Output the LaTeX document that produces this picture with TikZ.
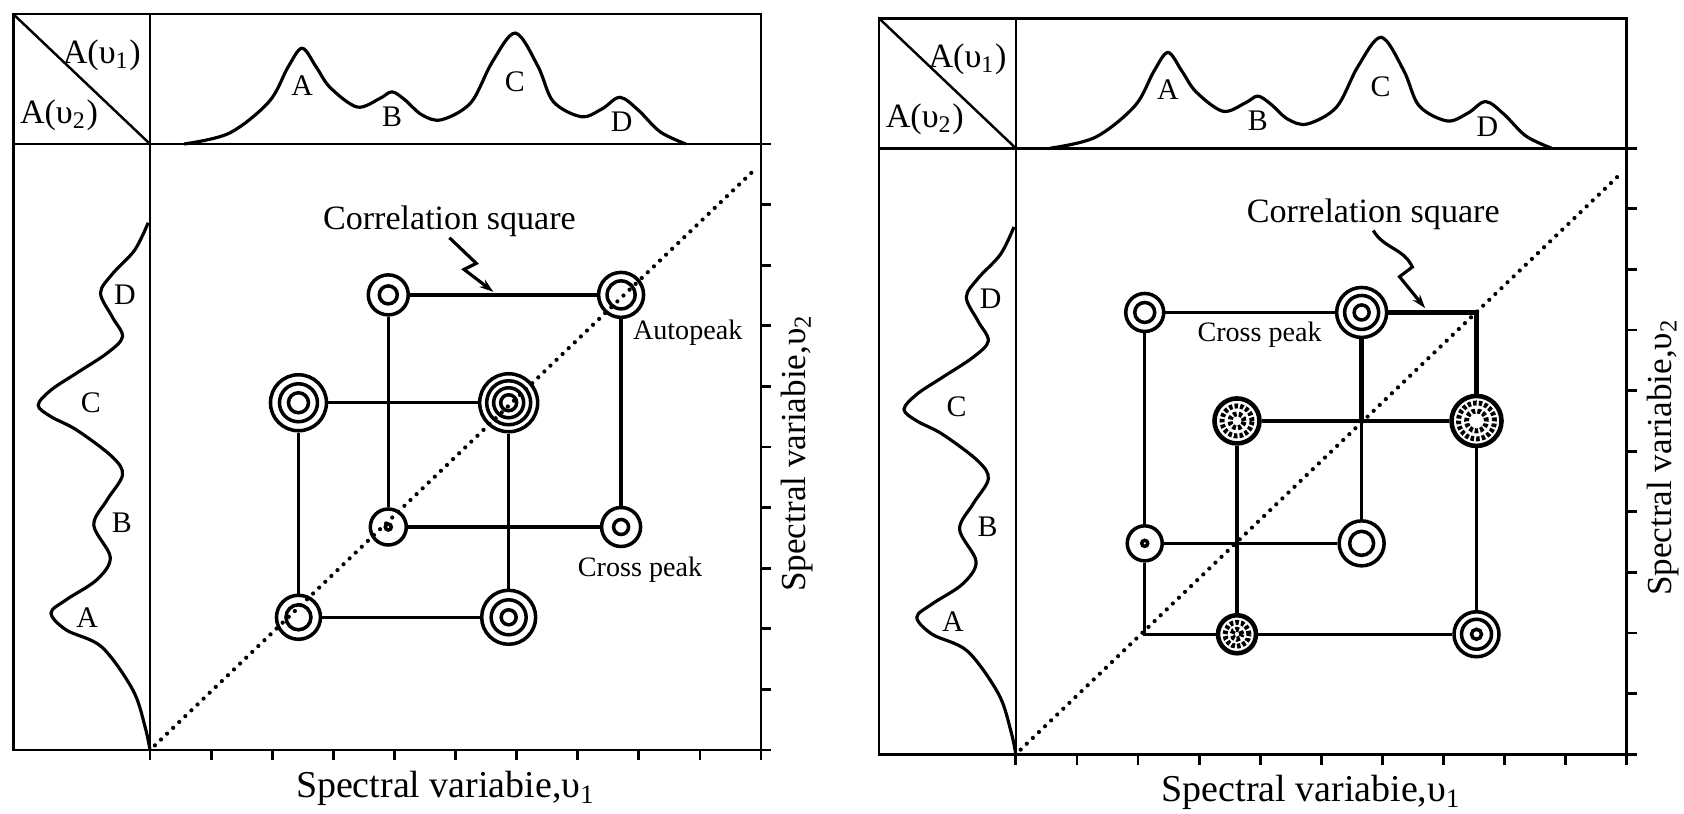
\documentclass[tikz,border=0pt]{standalone}
\usepackage{fontspec}
\setmainfont{Liberation Serif}
\usetikzlibrary{arrows.meta}

\tikzset{
  frameline/.style={line width=0.8pt},
  specline/.style={line width=0.9pt},
  sqline/.style={line width=0.9pt},
  sqbold/.style={line width=1.3pt},
  diagline/.style={line width=1.2pt, line cap=round, dash pattern=on 0pt off 2.4pt},
  peak/.style={circle, draw, line width=1pt, minimum size=#1, inner sep=0pt},
  peak/.default=0.4cm,
  rings/.style={path picture={\foreach \r in {#1}
      \draw[line width=1pt] (path picture bounding box.center) circle[radius=\r];}},
  fuzzy/.style={path picture={\foreach \r in {#1}
      \draw[line width=1.4pt, dash pattern=on 1pt off 0.6pt] (path picture bounding box.center) circle[radius=\r];}},
  peaklbl/.style={font=\fontsize{8.5}{10}\selectfont, inner sep=0pt},
  notelbl/.style={font=\fontsize{8}{10}\selectfont, inner sep=0pt},
  titlelbl/.style={font=\fontsize{9.7}{11}\selectfont, inner sep=0pt},
  axislbl/.style={font=\fontsize{10.8}{12}\selectfont, inner sep=0pt},
  zigzag/.style={line width=0.9pt, -{Stealth[length=4pt, width=2.6pt]}},
}

\begin{document}
\begin{tikzpicture}[x=0.611cm, y=0.606cm]
    % 0. page size, margins of the original
    \useasboundingbox (-2.455,-1.040) rectangle (25.106,12.376);

    % 1. two frames (left and right): 1D spectra on top and at the left, ticks, titles, diagonal
    \foreach \sx/\sy/\p in {0/0/1, 14.17/-0.07/2}{
      \begin{scope}[shift={(\sx,\sy)}]
        \draw[frameline] (-2.24,0) rectangle (10,12.145);
        \draw[frameline] (-2.24,10) -- (10,10);
        \draw[line width=0.7pt] (0,0) -- (0,12.145);
        \draw[line width=0.7pt] (-2.24,12.145) -- (0,10); % split corner cell
        \foreach \i in {0,...,10}{
          \draw[frameline] (\i,0) -- (\i,-0.17);
          \draw[frameline] (10,\i) -- (10.17,\i);
        }
        % spectrum A(v1) on top, peaks A B C D
        \draw[specline] plot[smooth, tension=0.55] coordinates {(0.56,10.0) (1.3,10.18) (1.95,10.70)
          (2.26,11.27) (2.49,11.58) (2.72,11.27) (2.95,10.93) (3.39,10.61) (3.76,10.75)
          (3.96,10.86) (4.17,10.73) (4.45,10.48) (4.77,10.40) (5.25,10.68) (5.60,11.35) (5.98,11.83)
          (6.35,11.28) (6.60,10.70) (7.06,10.45) (7.40,10.58) (7.69,10.77) (7.99,10.56) (8.35,10.20) (8.77,10.0)};
        % spectrum A(v2) at the left, peaks point to the left
        \draw[specline] plot[smooth, tension=0.55] coordinates {(0,0) (-0.08,0.38) (-0.28,0.99)
          (-0.79,1.70) (-1.37,1.98) (-1.62,2.26) (-1.37,2.48) (-0.87,2.81) (-0.65,3.18) (-0.92,3.71)
          (-0.70,4.13) (-0.45,4.54) (-0.62,4.84) (-1.2,5.28) (-1.62,5.5) (-1.83,5.69) (-1.62,5.94)
          (-1.2,6.22) (-0.70,6.55) (-0.45,6.82) (-0.62,7.15) (-0.81,7.54) (-0.62,7.85)
          (-0.25,8.25) (-0.03,8.70)};
        \node[peaklbl] (topA\p) at (2.49,10.97) {A};
        \node[peaklbl] (topB\p) at (3.96,10.45) {B};
        \node[peaklbl] (topC\p) at (5.97,11.02) {C};
        \node[peaklbl] (topD\p) at (7.72,10.36) {D};
        \node[peaklbl] (sideA\p) at (-1.03,2.19) {A};
        \node[peaklbl] (sideB\p) at (-0.46,3.75) {B};
        \node[peaklbl] (sideC\p) at (-0.97,5.73) {C};
        \node[peaklbl] (sideD\p) at (-0.41,7.51) {D};
        \node[titlelbl] (hdrA\p) at (-0.79,11.47) {A(υ\textsubscript{1})};
        \node[titlelbl] (hdrB\p) at (-1.49,10.48) {A(υ\textsubscript{2})};
        \node[axislbl] (xlab\p) at (4.84,-0.63) {Spectral variabie,υ\textsubscript{1}};
        \node[axislbl, font=\fontsize{10}{12}\selectfont, rotate=90] (ylab\p) at (10.59,4.9) {Spectral variabie,υ\textsubscript{2}};
        % autopeaks lie on this line
        \draw[diagline] (0.08,0.077) -- (9.92,9.6);
      \end{scope}
    }

    % 2. left map: two correlation squares B-D and A-C
    \node[peak=0.40cm, rings={0.09cm}] (BD1) at (3.90,7.51) {};
    \node[peak=0.45cm, rings={0.14cm}] (DD1) at (7.71,7.51) {};
    \node[peak=0.56cm, rings={0.19cm,0.10cm}] (AC1) at (2.43,5.73) {};
    \node[peak=0.58cm, rings={0.22cm,0.15cm,0.08cm}] (CC1) at (5.87,5.73) {};
    \node[peak=0.36cm, rings={0.03cm}] (BB1) at (3.90,3.68) {};
    \node[peak=0.39cm, rings={0.075cm}] (DB1) at (7.71,3.68) {};
    \node[peak=0.44cm, rings={0.125cm}] (AA1) at (2.43,2.19) {};
    \node[peak=0.54cm, rings={0.175cm,0.075cm}] (CA1) at (5.87,2.19) {};
    \draw[sqbold] (BD1) -- (DD1);
    \draw[sqbold] (DD1) -- (DB1);
    \draw[sqline] (BD1) -- (BB1);
    \draw[sqbold] (BB1) -- (DB1);
    \draw[sqline] (AC1) -- (CC1);
    \draw[sqline] (AC1) -- (AA1);
    \draw[sqline] (AA1) -- (CA1);
    \draw[sqline] (CC1) -- (CA1);
    \node[titlelbl] (corr1) at (4.90,8.72) {Correlation square};
    \coordinate (tip1) at (5.62,7.56);
    \draw[zigzag] (corr1.south) -- (5.34,8.03) -- (5.14,7.93) -- (tip1);
    \node[notelbl] (auto1) at (8.80,6.88) {Autopeak};
    \node[notelbl] (cross1) at (8.02,2.97) {Cross peak};

    % 3. right map: corners (A,A) and (D,D) carry no peak
    \begin{scope}[shift={(14.17,-0.07)}]
      \coordinate (AAc2) at (2.11,1.98);
      \coordinate (CCc2) at (5.66,5.50);
      \coordinate (DDc2) at (7.54,7.29);
      \node[peak=0.38cm, rings={0.10cm}] (AD2) at (2.11,7.29) {};
      \node[peak=0.50cm, rings={0.17cm,0.075cm}] (CD2) at (5.66,7.29) {};
      \node[peak=0.45cm, line width=1.3pt, fuzzy={0.15cm,0.07cm}] (BC2) at (3.62,5.50) {};
      \node[peak=0.50cm, line width=1.3pt, fuzzy={0.18cm,0.10cm}] (DC2) at (7.54,5.50) {};
      \node[peak=0.35cm, rings={0.03cm}] (AB2) at (2.11,3.48) {};
      \node[peak=0.45cm, rings={0.12cm}] (CB2) at (5.66,3.48) {};
      \node[peak=0.38cm, line width=1.3pt, fuzzy={0.12cm,0.05cm}] (BA2) at (3.62,1.98) {};
      \node[peak=0.45cm, rings={0.15cm,0.05cm}] (DA2) at (7.54,1.98) {};
      \draw[sqline] (AD2) -- (AB2);
      \draw[sqline] (AB2) -- (AAc2) -- (BA2);
      \draw[sqline] (BA2) -- (DA2);
      \draw[sqline] (AD2) -- (CD2);
      \draw[sqbold] (CD2) -- (DDc2) -- (DC2);
      \draw[sqbold] (CD2) -- (CCc2) -- (DC2);
      \draw[sqline] (DC2) -- (DA2);
      \draw[sqline] (CCc2) -- (CB2);
      \draw[sqline] (AB2) -- (CB2);
      \draw[sqline] (BC2) -- (CCc2);
      \draw[sqline] (BC2) -- (BA2);
      \node[titlelbl] (corr2) at (5.85,8.91) {Correlation square};
      \coordinate (tip2) at (6.70,7.36);
      \draw[zigzag] (corr2.south) to[out=-60, in=115] (6.49,8.04) -- (6.28,7.88) -- (tip2);
      \node[notelbl] (cross2) at (3.99,6.93) {Cross peak};
    \end{scope}

\end{tikzpicture}
\end{document}
